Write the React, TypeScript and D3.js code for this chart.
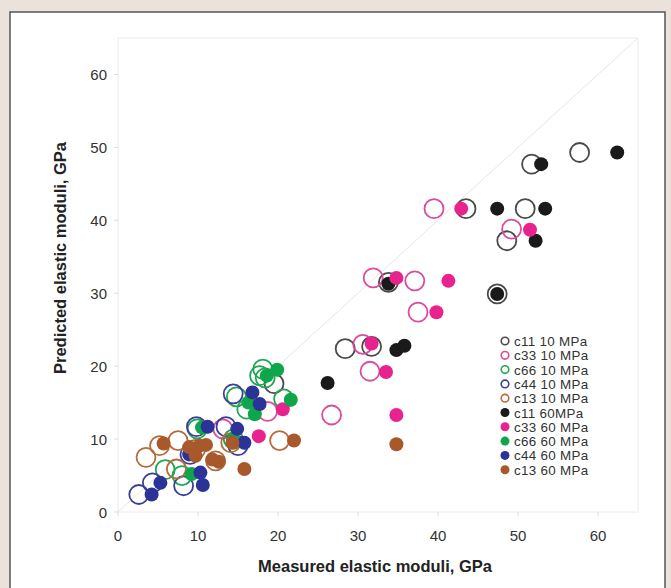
import React from "react";
import * as d3 from "d3";

const W = 671;
const H = 588;
const margin = { top: 38, right: 38, bottom: 76, left: 118 };

// measured, predicted (GPa)
const c11_10: [number, number][] = [
  [57.7, 49.3], [51.7, 47.7], [43.5, 41.6], [50.9, 41.6], [48.6, 37.2],
  [47.4, 29.9], [33.8, 31.5], [28.4, 22.4], [31.7, 22.7], [19.5, 17.6],
];
const c33_10: [number, number][] = [
  [39.5, 41.6], [49.2, 38.8], [31.9, 32.1], [37.1, 31.7], [37.5, 27.4],
  [30.6, 23.0], [31.5, 19.3], [26.7, 13.3], [18.7, 13.8], [13.1, 11.4],
];
const c66_10: [number, number][] = [
  [18.1, 19.6], [17.7, 18.7], [18.4, 18.4], [20.7, 15.5], [16.1, 14.1],
  [14.8, 15.8], [5.9, 5.8], [9.9, 11.4], [14.4, 10.0], [8.0, 5.0],
];
const c44_10: [number, number][] = [
  [2.6, 2.4], [4.3, 4.0], [8.2, 3.6], [9.8, 11.7], [13.5, 11.7],
  [14.4, 16.2], [15.0, 9.1], [9.0, 7.9],
];
const c13_10: [number, number][] = [
  [3.5, 7.5], [5.2, 9.1], [7.5, 9.8], [7.3, 5.9], [12.2, 7.0],
  [20.2, 9.8], [9.7, 8.6], [14.1, 9.5],
];
const c11_60: [number, number][] = [
  [62.4, 49.3], [52.9, 47.7], [47.4, 41.6], [53.4, 41.6], [52.2, 37.2],
  [47.4, 29.9], [33.8, 31.3], [34.8, 22.2], [35.8, 22.8], [26.2, 17.7],
];
const c33_60: [number, number][] = [
  [42.9, 41.6], [51.5, 38.7], [34.8, 32.1], [41.3, 31.7], [39.8, 27.4],
  [31.7, 23.1], [33.5, 19.2], [34.8, 13.3], [20.6, 14.1], [17.6, 10.4],
];
const c66_60: [number, number][] = [
  [19.9, 19.5], [18.6, 18.7], [21.6, 15.4], [17.1, 13.4], [16.3, 15.0],
  [9.2, 5.2], [10.5, 11.6], [14.4, 10.0],
];
const c44_60: [number, number][] = [
  [4.2, 2.4], [5.3, 4.0], [10.6, 3.7], [10.3, 5.4], [11.2, 11.7],
  [14.9, 11.4], [15.8, 9.5], [16.8, 16.4], [17.7, 14.8], [8.9, 7.9],
];
const c13_60: [number, number][] = [
  [5.7, 9.4], [8.9, 8.9], [10.2, 9.1], [9.7, 7.7], [11.0, 9.2],
  [11.8, 7.2], [12.6, 6.9], [14.3, 9.5], [15.8, 5.9], [22.0, 9.8], [34.8, 9.3],
];

const ticks = [0, 10, 20, 30, 40, 50, 60];

const series = [
  { name: "c11 10 MPa", data: c11_10, color: "#4a4a4a", open: true },
  { name: "c33 10 MPa", data: c33_10, color: "#dc4b9c", open: true },
  { name: "c66 10 MPa", data: c66_10, color: "#22a653", open: true },
  { name: "c44 10 MPa", data: c44_10, color: "#3a3f97", open: true },
  { name: "c13 10 MPa", data: c13_10, color: "#b46b3c", open: true },
  { name: "c11 60MPa", data: c11_60, color: "#1a1a1a", open: false },
  { name: "c33 60 MPa", data: c33_60, color: "#e8238d", open: false },
  { name: "c66 60 MPa", data: c66_60, color: "#0fa64b", open: false },
  { name: "c44 60 MPa", data: c44_60, color: "#2b3396", open: false },
  { name: "c13 60 MPa", data: c13_60, color: "#a8592b", open: false },
];

export default function App() {
  const x = d3.scaleLinear().domain([0, 65]).range([margin.left, W - margin.right + 5]);
  const y = d3.scaleLinear().domain([0, 65]).range([H - margin.bottom, margin.top]);
  const font = "'Liberation Sans', Arial, sans-serif";

  return (
    <svg width={W} height={H} style={{ position: "absolute", left: 0, top: 0, fontFamily: font }}>
      <rect width={W} height={H} fill="#ebe2db" />
      <rect x={10} y={12} width={655} height={H} fill="#fff" stroke="#555" strokeWidth={1.5} />

      {/* plot frame */}
      <rect x={x(0)} y={y(65)} width={x(65) - x(0)} height={y(0) - y(65)} fill="none" stroke="#ececec" strokeWidth={1} />
      <line x1={x(0)} y1={y(0)} x2={x(65)} y2={y(65)} stroke="#e6e6e6" strokeWidth={1} />

      {/* axes */}
      {ticks.map((t) => (
        <g key={"x" + t}>
          <line x1={x(t)} x2={x(t)} y1={y(0)} y2={y(0) + 4} stroke="#ddd" />
          <text x={x(t)} y={y(0) + 29} textAnchor="middle" fontSize={15} fill="#333">{t}</text>
        </g>
      ))}
      {ticks.map((t) => (
        <g key={"y" + t}>
          <line x1={x(0) - 4} x2={x(0)} y1={y(t)} y2={y(t)} stroke="#ddd" />
          <text x={x(0) - 11} y={y(t) + 5.5} textAnchor="end" fontSize={15} fill="#333">{t}</text>
        </g>
      ))}

      <text x={375} y={572} textAnchor="middle" fontSize={16.5} fontWeight="bold" fill="#222">
        Measured elastic moduli, GPa
      </text>
      <text transform={`translate(66,258) rotate(-90)`} textAnchor="middle" fontSize={16.5} fontWeight="bold" fill="#222">
        Predicted elastic moduli, GPa
      </text>

      {/* points: open markers first, then filled */}
      {series.map((s) => (
        <g key={s.name}>
          {s.data.map((d, i) =>
            s.open ? (
              <circle key={i} cx={x(d[0])} cy={y(d[1])} r={9.5} fill="none" stroke={s.color} strokeWidth={1.8} />
            ) : (
              <circle key={i} cx={x(d[0])} cy={y(d[1])} r={7} fill={s.color} />
            )
          )}
        </g>
      ))}

      {/* legend */}
      <g transform="translate(505,341)">
        {series.map((s, i) => (
          <g key={s.name} transform={`translate(0,${i * 14.3})`}>
            {s.open ? (
              <circle r={3.8} fill="none" stroke={s.color} strokeWidth={1.6} />
            ) : (
              <circle r={4.5} fill={s.color} />
            )}
            <text x={9} y={5} fontSize={13.4} letterSpacing={0.3} fill="#333">{s.name}</text>
          </g>
        ))}
      </g>
    </svg>
  );
}
